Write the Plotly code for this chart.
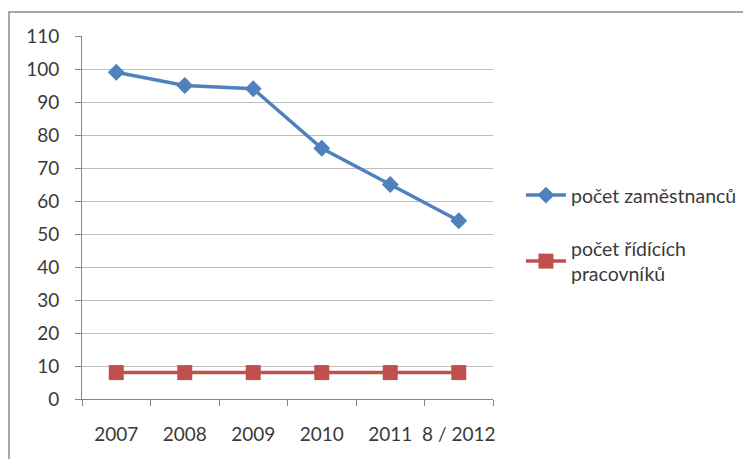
import plotly.graph_objects as go

years = ["2007", "2008", "2009", "2010", "2011", "8 / 2012"]
zamestnanci = [99, 95, 94, 76, 65, 54]
ridici = [8, 8, 8, 8, 8, 8]

blue = "#4F81BD"
red = "#C0504D"
font_family = "Lato, 'Open Sans', sans-serif"
text_color = "#3a3a3a"

fig = go.Figure()
fig.add_trace(go.Scatter(
    x=years, y=zamestnanci, name="počet zaměstnanců",
    mode="lines+markers",
    line=dict(color=blue, width=3.5),
    marker=dict(symbol="diamond", size=13, color=blue),
    legendgroup="a",
))
fig.add_trace(go.Scatter(
    x=years, y=ridici, name="počet řídících<br>pracovníků",
    mode="lines+markers",
    line=dict(color=red, width=3.5),
    marker=dict(symbol="square", size=15, color=red),
    legendgroup="b",
))

fig.update_layout(
    width=743, height=459,
    margin=dict(l=82, r=250, t=36, b=60, autoexpand=False),
    paper_bgcolor="white", plot_bgcolor="white",
    font=dict(family=font_family, size=19, color=text_color),
    showlegend=True,
    legend=dict(
        x=1.068, xanchor="left", y=0.452, yanchor="middle",
        font=dict(size=19.5, color=text_color),
        tracegroupgap=25, itemwidth=40,
        bgcolor="rgba(0,0,0,0)",
    ),
    xaxis=dict(
        type="category", tickson="boundaries", tickangle=0,
        ticks="outside", ticklen=6, tickcolor="#868686",
        showline=True, linecolor="#868686", linewidth=1,
        showgrid=False, ticklabelstandoff=18, automargin=False,
        range=[-0.5, 5.5],
    ),
    yaxis=dict(
        range=[0, 110], dtick=10,
        ticks="outside", ticklen=6, tickcolor="#868686",
        showline=True, linecolor="#868686", linewidth=1,
        showgrid=True, gridcolor="#BFBFBF", gridwidth=1,
        zeroline=False, ticklabelstandoff=12, automargin=False,
    ),
    shapes=[
        dict(type="rect", xref="paper", yref="paper",
             x0=(9 - 82) / 411, x1=(760 - 82) / 411,
             y0=-0.5, y1=1 + (36 - 12) / 363,
             line=dict(color="#8a8a8a", width=1.5), layer="below"),
    ],
)

fig.write_html("out.html")
